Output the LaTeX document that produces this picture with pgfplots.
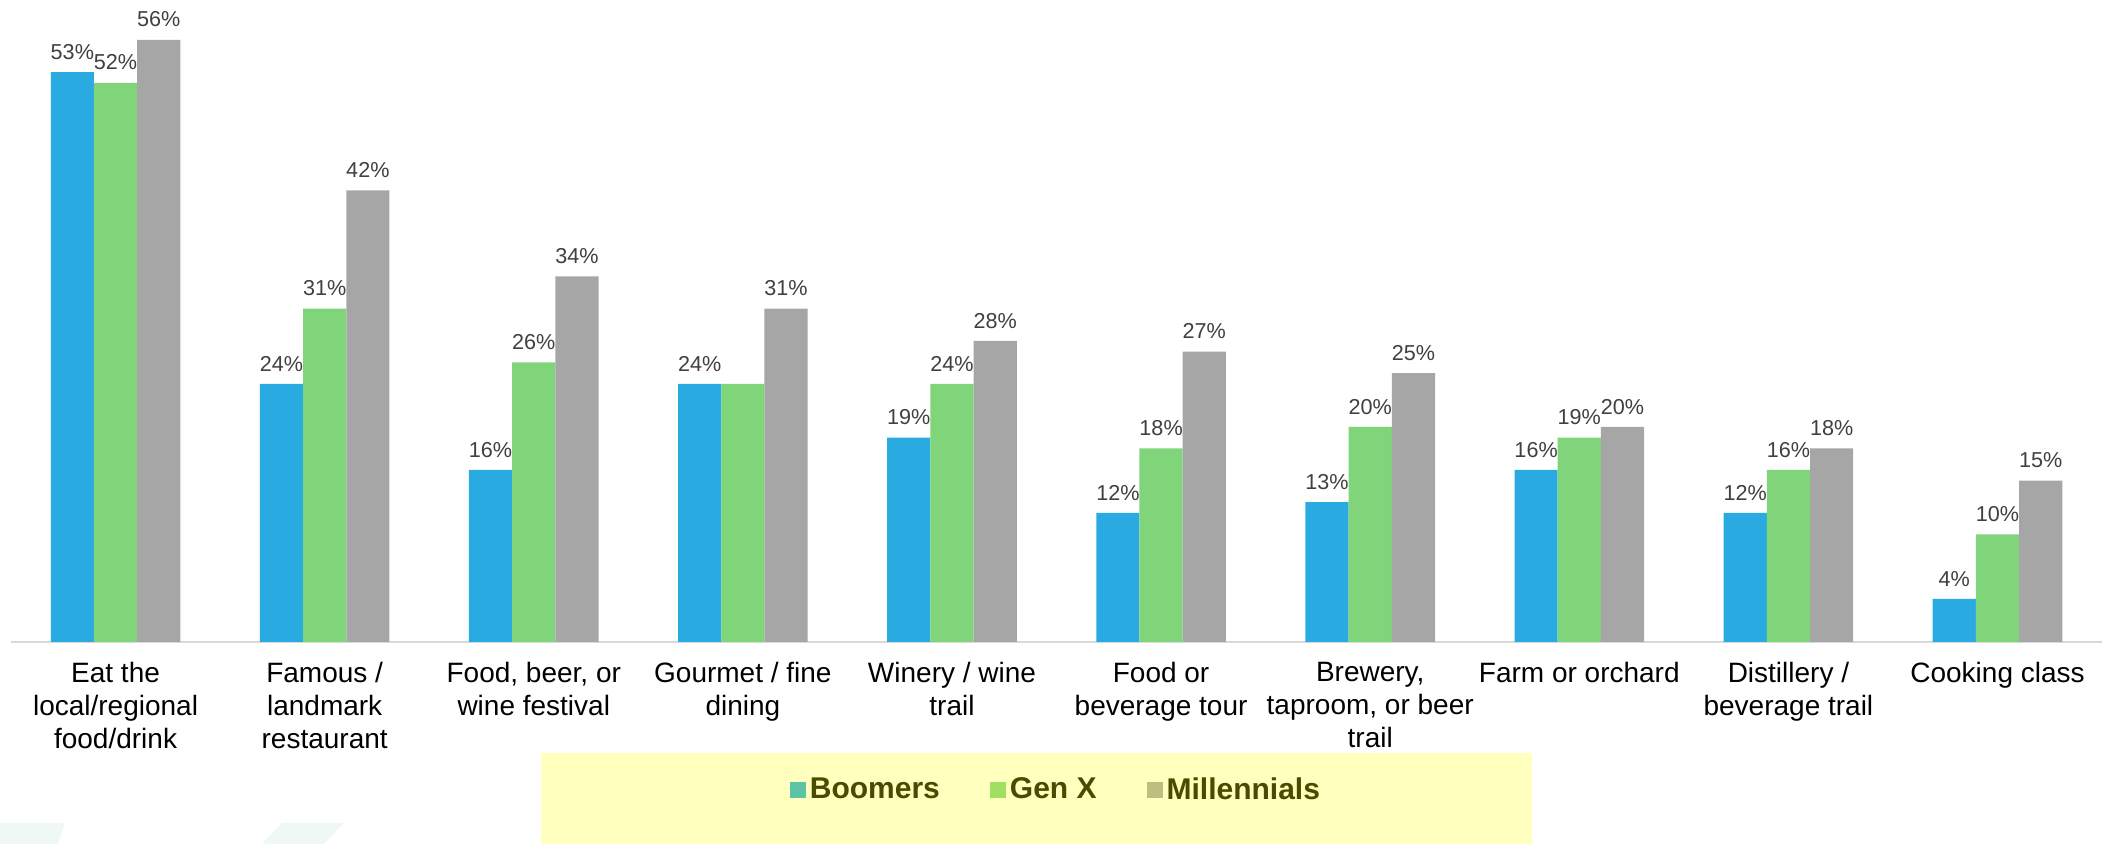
\documentclass[border=0pt]{standalone}
\usepackage{fontspec}
\setmainfont{Liberation Sans}
\usepackage{pgfplots}
\pgfplotsset{compat=1.18}

\definecolor{cBoom}{HTML}{29ABE2}
\definecolor{cGen}{HTML}{80D479}
\definecolor{cMil}{HTML}{A6A6A6}
\definecolor{lBoom}{HTML}{5EC4A6}
\definecolor{lGen}{HTML}{A0E060}
\definecolor{lMil}{HTML}{BEBE80}
\definecolor{legbg}{HTML}{FFFFBE}
\definecolor{legtxt}{HTML}{4B4B00}
\definecolor{lbl}{HTML}{404040}
\definecolor{deco}{HTML}{F0F8F5}
\definecolor{lineg}{HTML}{D9D9D9}

\begin{document}
\begin{tikzpicture}
\useasboundingbox (0,0) rectangle (1058pt,422pt);
\fill[deco] (0pt,0pt) -- (0pt,10.5pt) -- (32.5pt,10.5pt) -- (29pt,0pt) -- cycle;
\fill[deco] (131pt,0pt) -- (141pt,10.5pt) -- (172pt,10.5pt) -- (162pt,0pt) -- cycle;
\fill[legbg] (270.5pt,0pt) rectangle (766pt,45.5pt);
\begin{axis}[
  at={(5.5pt,101pt)}, anchor=south west,
  scale only axis, width=1045.5pt, height=321pt,
  xmin=-0.5, xmax=9.5, ymin=0, ymax=59.7,
  ybar=0pt, bar width=21.6pt,
  axis y line=none, axis x line*=bottom,
  x axis line style={draw=lineg, line width=1.2pt, -},
  xtick={0,...,9},
  xticklabels={{Eat the\\local/regional\\food/drink},{Famous /\\landmark\\restaurant},{Food, beer, or\\wine festival},{Gourmet / fine\\dining},{Winery / wine\\trail},{Food or\\beverage tour},{Brewery,\\taproom, or beer\\trail},{Farm or orchard},{Distillery /\\beverage trail},{Cooking class}},
  major tick length=0pt,
  xticklabel style={align=center, font=\fontsize{14}{16.5}\selectfont, text=black, yshift=-6.7pt},
  nodes near coords, point meta=explicit symbolic,
  every node near coord/.append style={font=\fontsize{10.8}{13}\selectfont, text=lbl, yshift=2.8pt},
  clip=false,
  legend style={at={(0.5002,-0.2305)}, anchor=center, fill=none, draw=none,
    legend columns=3, font=\bfseries\fontsize{15}{18}\selectfont, text=legtxt,
    /tikz/every even column/.append style={column sep=23pt}},
  legend image code/.code={\fill (0pt,-4pt) rectangle (8pt,4pt);},
]
\addlegendimage{fill=lBoom, draw=none}
\addlegendimage{fill=lGen, draw=none}
\addlegendimage{fill=lMil, draw=none}
\addplot[bar shift=-21.6pt, fill=cBoom, draw=none, forget plot] coordinates {
  (0,53) [53\%] (1,24) [24\%] (2,16) [16\%] (3,24) [24\%] (4,19) [19\%]
  (5,12) [12\%] (6,13) [13\%] (7,16) [16\%] (8,12) [12\%] (9,4) [4\%]};
\addplot[bar shift=0pt, fill=cGen, draw=none, forget plot] coordinates {
  (0,52) [52\%] (1,31) [31\%] (2,26) [26\%] (3,24) [] (4,24) [24\%]
  (5,18) [18\%] (6,20) [20\%] (7,19) [19\%] (8,16) [16\%] (9,10) [10\%]};
\addplot[bar shift=21.6pt, fill=cMil, draw=none, forget plot] coordinates {
  (0,56) [56\%] (1,42) [42\%] (2,34) [34\%] (3,31) [31\%] (4,28) [28\%]
  (5,27) [27\%] (6,25) [25\%] (7,20) [20\%] (8,18) [18\%] (9,15) [15\%]};
\legend{Boomers, Gen X, Millennials}
\end{axis}
\end{tikzpicture}
\end{document}
